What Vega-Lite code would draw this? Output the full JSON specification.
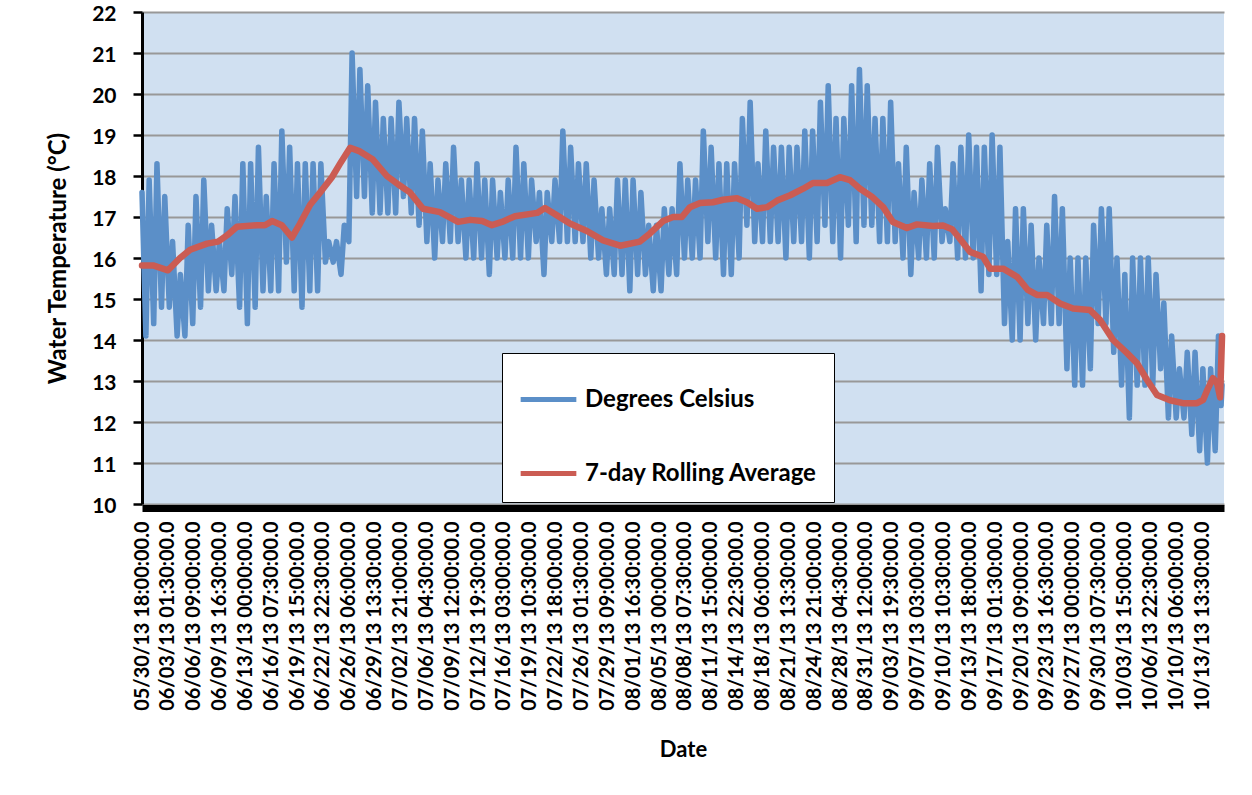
{
  "$schema": "https://vega.github.io/schema/vega-lite/v6.json",
  "width": 1082,
  "height": 492,
  "autosize": {"type": "none"},
  "padding": {"left": 142, "top": 12, "right": 28, "bottom": 291},
  "background": "white",
  "datasets": {
    "celsius": [
      {"t": "2013-05-30T18:00", "v": 17.6},
      {"t": "2013-05-31T06:00", "v": 14.1}, {"t": "2013-05-31T16:00", "v": 17.9},
      {"t": "2013-06-01T06:00", "v": 14.4}, {"t": "2013-06-01T16:00", "v": 18.3},
      {"t": "2013-06-02T06:00", "v": 14.8}, {"t": "2013-06-02T16:00", "v": 17.5},
      {"t": "2013-06-03T06:00", "v": 14.8}, {"t": "2013-06-03T16:00", "v": 16.4},
      {"t": "2013-06-04T06:00", "v": 14.1}, {"t": "2013-06-04T16:00", "v": 15.6},
      {"t": "2013-06-05T06:00", "v": 14.1}, {"t": "2013-06-05T16:00", "v": 16.8},
      {"t": "2013-06-06T06:00", "v": 14.4}, {"t": "2013-06-06T16:00", "v": 17.5},
      {"t": "2013-06-07T06:00", "v": 14.8}, {"t": "2013-06-07T16:00", "v": 17.9},
      {"t": "2013-06-08T06:00", "v": 15.2}, {"t": "2013-06-08T16:00", "v": 16.8},
      {"t": "2013-06-09T06:00", "v": 15.2}, {"t": "2013-06-09T16:00", "v": 16.4},
      {"t": "2013-06-10T06:00", "v": 15.2}, {"t": "2013-06-10T16:00", "v": 17.2},
      {"t": "2013-06-11T06:00", "v": 15.6}, {"t": "2013-06-11T16:00", "v": 17.5},
      {"t": "2013-06-12T06:00", "v": 14.8}, {"t": "2013-06-12T16:00", "v": 18.3},
      {"t": "2013-06-13T06:00", "v": 14.4}, {"t": "2013-06-13T16:00", "v": 18.3},
      {"t": "2013-06-14T06:00", "v": 14.8}, {"t": "2013-06-14T16:00", "v": 18.7},
      {"t": "2013-06-15T06:00", "v": 15.2}, {"t": "2013-06-15T16:00", "v": 17.5},
      {"t": "2013-06-16T06:00", "v": 15.2}, {"t": "2013-06-16T16:00", "v": 18.3},
      {"t": "2013-06-17T06:00", "v": 15.2}, {"t": "2013-06-17T16:00", "v": 19.1},
      {"t": "2013-06-18T06:00", "v": 15.9}, {"t": "2013-06-18T16:00", "v": 18.7},
      {"t": "2013-06-19T06:00", "v": 15.2}, {"t": "2013-06-19T16:00", "v": 18.3},
      {"t": "2013-06-20T06:00", "v": 14.8}, {"t": "2013-06-20T16:00", "v": 18.3},
      {"t": "2013-06-21T06:00", "v": 15.2}, {"t": "2013-06-21T16:00", "v": 18.3},
      {"t": "2013-06-22T06:00", "v": 15.2}, {"t": "2013-06-22T16:00", "v": 18.3},
      {"t": "2013-06-23T06:00", "v": 15.9}, {"t": "2013-06-23T16:00", "v": 16.4},
      {"t": "2013-06-24T06:00", "v": 15.9}, {"t": "2013-06-24T16:00", "v": 16.4},
      {"t": "2013-06-25T06:00", "v": 15.6}, {"t": "2013-06-25T16:00", "v": 16.8},
      {"t": "2013-06-26T06:00", "v": 16.4}, {"t": "2013-06-26T16:00", "v": 21.0},
      {"t": "2013-06-27T06:00", "v": 17.5}, {"t": "2013-06-27T16:00", "v": 20.6},
      {"t": "2013-06-28T06:00", "v": 17.5}, {"t": "2013-06-28T16:00", "v": 20.2},
      {"t": "2013-06-29T06:00", "v": 17.1}, {"t": "2013-06-29T16:00", "v": 19.8},
      {"t": "2013-06-30T06:00", "v": 17.1}, {"t": "2013-06-30T16:00", "v": 19.4},
      {"t": "2013-07-01T06:00", "v": 17.1}, {"t": "2013-07-01T16:00", "v": 19.4},
      {"t": "2013-07-02T06:00", "v": 17.1}, {"t": "2013-07-02T16:00", "v": 19.8},
      {"t": "2013-07-03T06:00", "v": 17.5}, {"t": "2013-07-03T16:00", "v": 19.4},
      {"t": "2013-07-04T06:00", "v": 17.1}, {"t": "2013-07-04T16:00", "v": 19.4},
      {"t": "2013-07-05T06:00", "v": 16.8}, {"t": "2013-07-05T16:00", "v": 19.1},
      {"t": "2013-07-06T06:00", "v": 16.4}, {"t": "2013-07-06T16:00", "v": 18.3},
      {"t": "2013-07-07T06:00", "v": 16.0}, {"t": "2013-07-07T16:00", "v": 17.9},
      {"t": "2013-07-08T06:00", "v": 16.4}, {"t": "2013-07-08T16:00", "v": 18.3},
      {"t": "2013-07-09T06:00", "v": 16.4}, {"t": "2013-07-09T16:00", "v": 18.7},
      {"t": "2013-07-10T06:00", "v": 16.4}, {"t": "2013-07-10T16:00", "v": 17.9},
      {"t": "2013-07-11T06:00", "v": 16.0}, {"t": "2013-07-11T16:00", "v": 17.9},
      {"t": "2013-07-12T06:00", "v": 16.0}, {"t": "2013-07-12T16:00", "v": 18.3},
      {"t": "2013-07-13T06:00", "v": 16.0}, {"t": "2013-07-13T16:00", "v": 17.9},
      {"t": "2013-07-14T06:00", "v": 15.6}, {"t": "2013-07-14T16:00", "v": 17.9},
      {"t": "2013-07-15T06:00", "v": 16.0}, {"t": "2013-07-15T16:00", "v": 17.6},
      {"t": "2013-07-16T06:00", "v": 16.0}, {"t": "2013-07-16T16:00", "v": 17.9},
      {"t": "2013-07-17T06:00", "v": 16.0}, {"t": "2013-07-17T16:00", "v": 18.7},
      {"t": "2013-07-18T06:00", "v": 16.0}, {"t": "2013-07-18T16:00", "v": 18.3},
      {"t": "2013-07-19T06:00", "v": 16.0}, {"t": "2013-07-19T16:00", "v": 17.9},
      {"t": "2013-07-20T06:00", "v": 16.4}, {"t": "2013-07-20T16:00", "v": 17.6},
      {"t": "2013-07-21T06:00", "v": 15.6}, {"t": "2013-07-21T16:00", "v": 17.6},
      {"t": "2013-07-22T06:00", "v": 16.4}, {"t": "2013-07-22T16:00", "v": 17.9},
      {"t": "2013-07-23T06:00", "v": 16.4}, {"t": "2013-07-23T16:00", "v": 19.1},
      {"t": "2013-07-24T06:00", "v": 16.4}, {"t": "2013-07-24T16:00", "v": 18.7},
      {"t": "2013-07-25T06:00", "v": 16.4}, {"t": "2013-07-25T16:00", "v": 18.3},
      {"t": "2013-07-26T06:00", "v": 16.4}, {"t": "2013-07-26T16:00", "v": 18.3},
      {"t": "2013-07-27T06:00", "v": 16.0}, {"t": "2013-07-27T16:00", "v": 17.9},
      {"t": "2013-07-28T06:00", "v": 16.0}, {"t": "2013-07-28T16:00", "v": 17.2},
      {"t": "2013-07-29T06:00", "v": 15.6}, {"t": "2013-07-29T16:00", "v": 17.2},
      {"t": "2013-07-30T06:00", "v": 15.6}, {"t": "2013-07-30T16:00", "v": 17.9},
      {"t": "2013-07-31T06:00", "v": 15.6}, {"t": "2013-07-31T16:00", "v": 17.9},
      {"t": "2013-08-01T06:00", "v": 15.2}, {"t": "2013-08-01T16:00", "v": 17.9},
      {"t": "2013-08-02T06:00", "v": 15.6}, {"t": "2013-08-02T16:00", "v": 17.6},
      {"t": "2013-08-03T06:00", "v": 15.6}, {"t": "2013-08-03T16:00", "v": 16.8},
      {"t": "2013-08-04T06:00", "v": 15.2}, {"t": "2013-08-04T16:00", "v": 16.8},
      {"t": "2013-08-05T06:00", "v": 15.2}, {"t": "2013-08-05T16:00", "v": 17.2},
      {"t": "2013-08-06T06:00", "v": 15.6}, {"t": "2013-08-06T16:00", "v": 17.2},
      {"t": "2013-08-07T06:00", "v": 15.6}, {"t": "2013-08-07T16:00", "v": 18.3},
      {"t": "2013-08-08T06:00", "v": 16.0}, {"t": "2013-08-08T16:00", "v": 17.9},
      {"t": "2013-08-09T06:00", "v": 16.0}, {"t": "2013-08-09T16:00", "v": 17.9},
      {"t": "2013-08-10T06:00", "v": 16.0}, {"t": "2013-08-10T16:00", "v": 19.1},
      {"t": "2013-08-11T06:00", "v": 16.4}, {"t": "2013-08-11T16:00", "v": 18.7},
      {"t": "2013-08-12T06:00", "v": 16.0}, {"t": "2013-08-12T16:00", "v": 18.3},
      {"t": "2013-08-13T06:00", "v": 15.6}, {"t": "2013-08-13T16:00", "v": 18.3},
      {"t": "2013-08-14T06:00", "v": 15.6}, {"t": "2013-08-14T16:00", "v": 18.3},
      {"t": "2013-08-15T06:00", "v": 16.0}, {"t": "2013-08-15T16:00", "v": 19.4},
      {"t": "2013-08-16T06:00", "v": 16.8}, {"t": "2013-08-16T16:00", "v": 19.8},
      {"t": "2013-08-17T06:00", "v": 16.4}, {"t": "2013-08-17T16:00", "v": 18.3},
      {"t": "2013-08-18T06:00", "v": 16.4}, {"t": "2013-08-18T16:00", "v": 19.1},
      {"t": "2013-08-19T06:00", "v": 16.4}, {"t": "2013-08-19T16:00", "v": 18.7},
      {"t": "2013-08-20T06:00", "v": 16.4}, {"t": "2013-08-20T16:00", "v": 18.7},
      {"t": "2013-08-21T06:00", "v": 16.0}, {"t": "2013-08-21T16:00", "v": 18.7},
      {"t": "2013-08-22T06:00", "v": 16.4}, {"t": "2013-08-22T16:00", "v": 18.7},
      {"t": "2013-08-23T06:00", "v": 16.4}, {"t": "2013-08-23T16:00", "v": 19.1},
      {"t": "2013-08-24T06:00", "v": 16.0}, {"t": "2013-08-24T16:00", "v": 19.1},
      {"t": "2013-08-25T06:00", "v": 16.4}, {"t": "2013-08-25T16:00", "v": 19.8},
      {"t": "2013-08-26T06:00", "v": 16.8}, {"t": "2013-08-26T16:00", "v": 20.2},
      {"t": "2013-08-27T06:00", "v": 16.4}, {"t": "2013-08-27T16:00", "v": 19.4},
      {"t": "2013-08-28T06:00", "v": 16.0}, {"t": "2013-08-28T16:00", "v": 19.4},
      {"t": "2013-08-29T06:00", "v": 16.8}, {"t": "2013-08-29T16:00", "v": 20.2},
      {"t": "2013-08-30T06:00", "v": 16.4}, {"t": "2013-08-30T16:00", "v": 20.6},
      {"t": "2013-08-31T06:00", "v": 16.8}, {"t": "2013-08-31T16:00", "v": 20.2},
      {"t": "2013-09-01T06:00", "v": 16.8}, {"t": "2013-09-01T16:00", "v": 19.4},
      {"t": "2013-09-02T06:00", "v": 16.4}, {"t": "2013-09-02T16:00", "v": 19.4},
      {"t": "2013-09-03T06:00", "v": 16.4}, {"t": "2013-09-03T16:00", "v": 19.8},
      {"t": "2013-09-04T06:00", "v": 16.4}, {"t": "2013-09-04T16:00", "v": 18.3},
      {"t": "2013-09-05T06:00", "v": 16.0}, {"t": "2013-09-05T16:00", "v": 18.7},
      {"t": "2013-09-06T06:00", "v": 15.6}, {"t": "2013-09-06T16:00", "v": 17.6},
      {"t": "2013-09-07T06:00", "v": 16.0}, {"t": "2013-09-07T16:00", "v": 17.9},
      {"t": "2013-09-08T06:00", "v": 16.0}, {"t": "2013-09-08T16:00", "v": 18.3},
      {"t": "2013-09-09T06:00", "v": 16.0}, {"t": "2013-09-09T16:00", "v": 18.7},
      {"t": "2013-09-10T06:00", "v": 16.4}, {"t": "2013-09-10T16:00", "v": 17.2},
      {"t": "2013-09-11T06:00", "v": 16.4}, {"t": "2013-09-11T16:00", "v": 18.3},
      {"t": "2013-09-12T06:00", "v": 16.0}, {"t": "2013-09-12T16:00", "v": 18.7},
      {"t": "2013-09-13T06:00", "v": 16.0}, {"t": "2013-09-13T16:00", "v": 19.0},
      {"t": "2013-09-14T06:00", "v": 16.0}, {"t": "2013-09-14T16:00", "v": 18.7},
      {"t": "2013-09-15T06:00", "v": 15.2}, {"t": "2013-09-15T16:00", "v": 18.7},
      {"t": "2013-09-16T06:00", "v": 15.6}, {"t": "2013-09-16T16:00", "v": 19.0},
      {"t": "2013-09-17T06:00", "v": 15.6}, {"t": "2013-09-17T16:00", "v": 18.7},
      {"t": "2013-09-18T06:00", "v": 14.4}, {"t": "2013-09-18T16:00", "v": 16.4},
      {"t": "2013-09-19T06:00", "v": 14.0}, {"t": "2013-09-19T16:00", "v": 17.2},
      {"t": "2013-09-20T06:00", "v": 14.0}, {"t": "2013-09-20T16:00", "v": 17.2},
      {"t": "2013-09-21T06:00", "v": 14.4}, {"t": "2013-09-21T16:00", "v": 16.8},
      {"t": "2013-09-22T06:00", "v": 14.0}, {"t": "2013-09-22T16:00", "v": 16.0},
      {"t": "2013-09-23T06:00", "v": 14.4}, {"t": "2013-09-23T16:00", "v": 16.8},
      {"t": "2013-09-24T06:00", "v": 14.4}, {"t": "2013-09-24T16:00", "v": 17.5},
      {"t": "2013-09-25T06:00", "v": 14.4}, {"t": "2013-09-25T16:00", "v": 17.2},
      {"t": "2013-09-26T06:00", "v": 13.3}, {"t": "2013-09-26T16:00", "v": 16.0},
      {"t": "2013-09-27T06:00", "v": 12.9}, {"t": "2013-09-27T16:00", "v": 16.0},
      {"t": "2013-09-28T06:00", "v": 12.9}, {"t": "2013-09-28T16:00", "v": 16.0},
      {"t": "2013-09-29T06:00", "v": 13.3}, {"t": "2013-09-29T16:00", "v": 16.8},
      {"t": "2013-09-30T06:00", "v": 14.4}, {"t": "2013-09-30T16:00", "v": 17.2},
      {"t": "2013-10-01T06:00", "v": 14.4}, {"t": "2013-10-01T16:00", "v": 17.2},
      {"t": "2013-10-02T06:00", "v": 13.7}, {"t": "2013-10-02T16:00", "v": 16.0},
      {"t": "2013-10-03T06:00", "v": 12.9}, {"t": "2013-10-03T16:00", "v": 15.6},
      {"t": "2013-10-04T06:00", "v": 12.1}, {"t": "2013-10-04T16:00", "v": 16.0},
      {"t": "2013-10-05T06:00", "v": 12.9}, {"t": "2013-10-05T16:00", "v": 16.0},
      {"t": "2013-10-06T06:00", "v": 12.9}, {"t": "2013-10-06T16:00", "v": 16.0},
      {"t": "2013-10-07T06:00", "v": 12.9}, {"t": "2013-10-07T16:00", "v": 15.6},
      {"t": "2013-10-08T06:00", "v": 13.3}, {"t": "2013-10-08T16:00", "v": 14.9},
      {"t": "2013-10-09T06:00", "v": 12.1}, {"t": "2013-10-09T16:00", "v": 14.1},
      {"t": "2013-10-10T06:00", "v": 12.1}, {"t": "2013-10-10T16:00", "v": 13.3},
      {"t": "2013-10-11T06:00", "v": 12.1}, {"t": "2013-10-11T16:00", "v": 13.7},
      {"t": "2013-10-12T06:00", "v": 11.7}, {"t": "2013-10-12T16:00", "v": 13.7},
      {"t": "2013-10-13T06:00", "v": 11.3}, {"t": "2013-10-13T16:00", "v": 13.3},
      {"t": "2013-10-14T06:00", "v": 11.0}, {"t": "2013-10-14T16:00", "v": 13.3},
      {"t": "2013-10-15T06:00", "v": 11.3}, {"t": "2013-10-15T16:00", "v": 14.1},
      {"t": "2013-10-16T00:00", "v": 12.4}, {"t": "2013-10-16T03:00", "v": 12.9}
    ],
    "rolling": [
      {"t": "2013-05-30T18:00", "v": 15.82}, {"t": "2013-06-01T04:00", "v": 15.82},
      {"t": "2013-06-03T02:00", "v": 15.7}, {"t": "2013-06-04T15:00", "v": 16.0},
      {"t": "2013-06-05T22:00", "v": 16.2}, {"t": "2013-06-08T02:00", "v": 16.35},
      {"t": "2013-06-09T12:00", "v": 16.4}, {"t": "2013-06-10T15:00", "v": 16.55},
      {"t": "2013-06-11T22:00", "v": 16.76}, {"t": "2013-06-14T12:00", "v": 16.8},
      {"t": "2013-06-15T12:00", "v": 16.8}, {"t": "2013-06-16T10:00", "v": 16.9},
      {"t": "2013-06-17T16:00", "v": 16.8}, {"t": "2013-06-18T23:00", "v": 16.5},
      {"t": "2013-06-20T00:00", "v": 16.84}, {"t": "2013-06-21T07:00", "v": 17.3},
      {"t": "2013-06-22T19:00", "v": 17.65}, {"t": "2013-06-24T02:00", "v": 17.97},
      {"t": "2013-06-25T03:00", "v": 18.3}, {"t": "2013-06-26T10:00", "v": 18.69},
      {"t": "2013-06-27T16:00", "v": 18.6}, {"t": "2013-06-29T08:00", "v": 18.4},
      {"t": "2013-07-01T03:00", "v": 18.0}, {"t": "2013-07-02T13:00", "v": 17.8},
      {"t": "2013-07-04T02:00", "v": 17.6}, {"t": "2013-07-05T18:00", "v": 17.2},
      {"t": "2013-07-07T22:00", "v": 17.12}, {"t": "2013-07-10T06:00", "v": 16.88},
      {"t": "2013-07-11T19:00", "v": 16.93}, {"t": "2013-07-13T08:00", "v": 16.9},
      {"t": "2013-07-14T14:00", "v": 16.8}, {"t": "2013-07-15T21:00", "v": 16.88},
      {"t": "2013-07-17T13:00", "v": 17.02}, {"t": "2013-07-20T09:00", "v": 17.1},
      {"t": "2013-07-21T09:00", "v": 17.22}, {"t": "2013-07-22T22:00", "v": 17.04},
      {"t": "2013-07-24T14:00", "v": 16.84}, {"t": "2013-07-26T18:00", "v": 16.66},
      {"t": "2013-07-28T20:00", "v": 16.43}, {"t": "2013-07-31T00:00", "v": 16.3},
      {"t": "2013-08-02T13:00", "v": 16.4}, {"t": "2013-08-03T20:00", "v": 16.6},
      {"t": "2013-08-05T12:00", "v": 16.9}, {"t": "2013-08-06T19:00", "v": 17.0},
      {"t": "2013-08-07T22:00", "v": 17.0}, {"t": "2013-08-08T23:00", "v": 17.24},
      {"t": "2013-08-10T06:00", "v": 17.34}, {"t": "2013-08-11T22:00", "v": 17.36},
      {"t": "2013-08-13T05:00", "v": 17.42}, {"t": "2013-08-15T00:00", "v": 17.46},
      {"t": "2013-08-16T06:00", "v": 17.36}, {"t": "2013-08-17T13:00", "v": 17.2},
      {"t": "2013-08-18T20:00", "v": 17.24}, {"t": "2013-08-20T03:00", "v": 17.4},
      {"t": "2013-08-21T19:00", "v": 17.53}, {"t": "2013-08-23T11:00", "v": 17.69},
      {"t": "2013-08-24T17:00", "v": 17.83}, {"t": "2013-08-26T12:00", "v": 17.83},
      {"t": "2013-08-28T04:00", "v": 17.97}, {"t": "2013-08-29T11:00", "v": 17.9},
      {"t": "2013-08-30T18:00", "v": 17.69}, {"t": "2013-09-01T07:00", "v": 17.49},
      {"t": "2013-09-02T17:00", "v": 17.24}, {"t": "2013-09-03T23:00", "v": 16.88},
      {"t": "2013-09-05T18:00", "v": 16.73}, {"t": "2013-09-07T01:00", "v": 16.82},
      {"t": "2013-09-09T02:00", "v": 16.78}, {"t": "2013-09-10T09:00", "v": 16.79},
      {"t": "2013-09-11T13:00", "v": 16.7}, {"t": "2013-09-12T13:00", "v": 16.47},
      {"t": "2013-09-13T20:00", "v": 16.15}, {"t": "2013-09-15T12:00", "v": 16.03},
      {"t": "2013-09-16T10:00", "v": 15.74}, {"t": "2013-09-18T02:00", "v": 15.74},
      {"t": "2013-09-19T21:00", "v": 15.54}, {"t": "2013-09-21T06:00", "v": 15.22},
      {"t": "2013-09-22T10:00", "v": 15.1}, {"t": "2013-09-23T17:00", "v": 15.1},
      {"t": "2013-09-25T09:00", "v": 14.89}, {"t": "2013-09-27T01:00", "v": 14.77},
      {"t": "2013-09-29T05:00", "v": 14.73}, {"t": "2013-09-30T12:00", "v": 14.49},
      {"t": "2013-10-02T04:00", "v": 14.0}, {"t": "2013-10-03T23:00", "v": 13.68},
      {"t": "2013-10-05T06:00", "v": 13.43}, {"t": "2013-10-06T12:00", "v": 13.03},
      {"t": "2013-10-07T19:00", "v": 12.66}, {"t": "2013-10-09T11:00", "v": 12.53},
      {"t": "2013-10-11T03:00", "v": 12.46}, {"t": "2013-10-12T22:00", "v": 12.46},
      {"t": "2013-10-13T17:00", "v": 12.54}, {"t": "2013-10-14T05:00", "v": 12.77},
      {"t": "2013-10-14T23:00", "v": 13.07}, {"t": "2013-10-15T12:00", "v": 12.94},
      {"t": "2013-10-15T21:00", "v": 12.6}, {"t": "2013-10-16T03:00", "v": 14.1}
    ]
  },
  "encoding": {
    "x": {
      "field": "t",
      "type": "temporal",
      "title": "Date",
      "scale": {
        "domain": [
          {"year": 2013, "month": 5, "date": 30, "hours": 18},
          {"year": 2013, "month": 10, "date": 16, "hours": 9}
        ]
      },
      "axis": {
        "values": [
          {"year": 2013, "month": 5, "date": 30, "hours": 18, "minutes": 0},
          {"year": 2013, "month": 6, "date": 3, "hours": 1, "minutes": 30},
          {"year": 2013, "month": 6, "date": 6, "hours": 9, "minutes": 0},
          {"year": 2013, "month": 6, "date": 9, "hours": 16, "minutes": 30},
          {"year": 2013, "month": 6, "date": 13, "hours": 0, "minutes": 0},
          {"year": 2013, "month": 6, "date": 16, "hours": 7, "minutes": 30},
          {"year": 2013, "month": 6, "date": 19, "hours": 15, "minutes": 0},
          {"year": 2013, "month": 6, "date": 22, "hours": 22, "minutes": 30},
          {"year": 2013, "month": 6, "date": 26, "hours": 6, "minutes": 0},
          {"year": 2013, "month": 6, "date": 29, "hours": 13, "minutes": 30},
          {"year": 2013, "month": 7, "date": 2, "hours": 21, "minutes": 0},
          {"year": 2013, "month": 7, "date": 6, "hours": 4, "minutes": 30},
          {"year": 2013, "month": 7, "date": 9, "hours": 12, "minutes": 0},
          {"year": 2013, "month": 7, "date": 12, "hours": 19, "minutes": 30},
          {"year": 2013, "month": 7, "date": 16, "hours": 3, "minutes": 0},
          {"year": 2013, "month": 7, "date": 19, "hours": 10, "minutes": 30},
          {"year": 2013, "month": 7, "date": 22, "hours": 18, "minutes": 0},
          {"year": 2013, "month": 7, "date": 26, "hours": 1, "minutes": 30},
          {"year": 2013, "month": 7, "date": 29, "hours": 9, "minutes": 0},
          {"year": 2013, "month": 8, "date": 1, "hours": 16, "minutes": 30},
          {"year": 2013, "month": 8, "date": 5, "hours": 0, "minutes": 0},
          {"year": 2013, "month": 8, "date": 8, "hours": 7, "minutes": 30},
          {"year": 2013, "month": 8, "date": 11, "hours": 15, "minutes": 0},
          {"year": 2013, "month": 8, "date": 14, "hours": 22, "minutes": 30},
          {"year": 2013, "month": 8, "date": 18, "hours": 6, "minutes": 0},
          {"year": 2013, "month": 8, "date": 21, "hours": 13, "minutes": 30},
          {"year": 2013, "month": 8, "date": 24, "hours": 21, "minutes": 0},
          {"year": 2013, "month": 8, "date": 28, "hours": 4, "minutes": 30},
          {"year": 2013, "month": 8, "date": 31, "hours": 12, "minutes": 0},
          {"year": 2013, "month": 9, "date": 3, "hours": 19, "minutes": 30},
          {"year": 2013, "month": 9, "date": 7, "hours": 3, "minutes": 0},
          {"year": 2013, "month": 9, "date": 10, "hours": 10, "minutes": 30},
          {"year": 2013, "month": 9, "date": 13, "hours": 18, "minutes": 0},
          {"year": 2013, "month": 9, "date": 17, "hours": 1, "minutes": 30},
          {"year": 2013, "month": 9, "date": 20, "hours": 9, "minutes": 0},
          {"year": 2013, "month": 9, "date": 23, "hours": 16, "minutes": 30},
          {"year": 2013, "month": 9, "date": 27, "hours": 0, "minutes": 0},
          {"year": 2013, "month": 9, "date": 30, "hours": 7, "minutes": 30},
          {"year": 2013, "month": 10, "date": 3, "hours": 15, "minutes": 0},
          {"year": 2013, "month": 10, "date": 6, "hours": 22, "minutes": 30},
          {"year": 2013, "month": 10, "date": 10, "hours": 6, "minutes": 0},
          {"year": 2013, "month": 10, "date": 13, "hours": 13, "minutes": 30}
        ],
        "format": "%m/%d/%y %H:%M:%S.0",
        "formatType": "time",
        "labelAngle": -90,
        "labelFlush": false,
        "labelOverlap": false,
        "labelLimit": 0,
        "labelFont": "Lato",
        "labelFontSize": 20,
        "labelFontWeight": "bold",
        "labelColor": "#000000",
        "labelPadding": 13,
        "ticks": false,
        "grid": false,
        "domainColor": "#000000",
        "domainWidth": 7,
        "offset": 4,
        "titleFont": "Lato",
        "titleFontSize": 22,
        "titleFontWeight": "bold",
        "titleColor": "#000000",
        "titlePadding": 31
      }
    },
    "y": {
      "field": "v",
      "type": "quantitative",
      "title": "Water Temperature (°C)",
      "scale": {"domain": [10, 22], "nice": false, "zero": false},
      "axis": {
        "values": [10, 11, 12, 13, 14, 15, 16, 17, 18, 19, 20, 21, 22],
        "labelFont": "Lato",
        "labelFontSize": 21,
        "labelFontWeight": "bold",
        "labelColor": "#000000",
        "labelPadding": 17,
        "labelOffset": 2,
        "tickSize": 9,
        "tickWidth": 2.5,
        "tickColor": "#000000",
        "domainColor": "#000000",
        "domainWidth": 3,
        "grid": true,
        "gridColor": "#989898",
        "gridWidth": 2,
        "titleFont": "Lato",
        "titleFontSize": 24,
        "titleFontWeight": "bold",
        "titleColor": "#000000",
        "titlePadding": 21
      }
    }
  },
  "layer": [
    {
      "data": {"name": "celsius"},
      "mark": {"type": "line", "strokeWidth": 5.5, "strokeJoin": "round", "strokeCap": "round"},
      "encoding": {
        "color": {
          "datum": "Degrees Celsius",
          "scale": {
            "domain": ["Degrees Celsius", "7-day Rolling Average"],
            "range": ["#5b8fc8", "#cb5c53"]
          },
          "legend": {
            "title": null,
            "orient": "none",
            "legendX": 360,
            "legendY": 341,
            "direction": "vertical",
            "fillColor": "#ffffff",
            "strokeColor": "#000000",
            "padding": 16,
            "rowPadding": 31,
            "symbolType": "stroke",
            "symbolSize": 3100,
            "symbolStrokeWidth": 5,
            "labelFont": "Lato",
            "labelFontSize": 24,
            "labelFontWeight": "bold",
            "labelColor": "#000000",
            "labelOffset": 6,
            "labelLimit": 400
          }
        }
      }
    },
    {
      "data": {"name": "rolling"},
      "mark": {"type": "line", "strokeWidth": 6.5, "strokeJoin": "round", "strokeCap": "round"},
      "encoding": {
        "color": {"datum": "7-day Rolling Average"}
      }
    }
  ],
  "config": {
    "font": "Lato",
    "view": {"fill": "#d0e0f1", "stroke": null}
  }
}
